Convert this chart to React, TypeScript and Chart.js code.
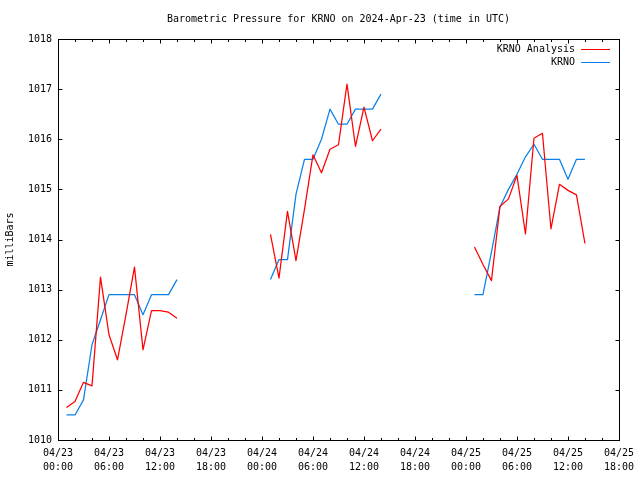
import React, { useEffect, useRef } from "react";
import { Chart, registerables } from "chart.js";

Chart.register(...registerables);

// Hours since 2024-04-23 00:00 UTC at which each data segment starts (hourly data)
const segmentStarts = [1, 25, 49];

// KRNO Analysis (red), per segment, hourly values in mb
const analysisSeg1 = [1010.65, 1010.77, 1011.15, 1011.08, 1013.25, 1012.1, 1011.6, 1012.5, 1013.45, 1011.8, 1012.58, 1012.58, 1012.55, 1012.43];
const analysisSeg2 = [1014.1, 1013.23, 1014.56, 1013.58, 1014.6, 1015.69, 1015.33, 1015.8, 1015.89, 1017.1, 1015.86, 1016.64, 1015.97, 1016.2];
const analysisSeg3 = [1013.85, 1013.5, 1013.18, 1014.66, 1014.81, 1015.28, 1014.11, 1016.02, 1016.12, 1014.21, 1015.1, 1014.98, 1014.89, 1013.92];

// KRNO observations (blue)
const krnoSeg1 = [1010.5, 1010.5, 1010.8, 1011.9, 1012.4, 1012.9, 1012.9, 1012.9, 1012.9, 1012.5, 1012.9, 1012.9, 1012.9, 1013.2];
const krnoSeg2 = [1013.2, 1013.6, 1013.6, 1014.9, 1015.6, 1015.6, 1016.0, 1016.6, 1016.3, 1016.3, 1016.6, 1016.6, 1016.6, 1016.9];
const krnoSeg3 = [1012.9, 1012.9, 1013.75, 1014.65, 1015.0, 1015.3, 1015.65, 1015.9, 1015.6, 1015.6, 1015.6, 1015.2, 1015.6, 1015.6];

// x tick labels (every 6 h from 0 to 66)
const tickDates = ["04/23", "04/23", "04/23", "04/23", "04/24", "04/24", "04/24", "04/24", "04/25", "04/25", "04/25", "04/25"];
const tickTimes = ["00:00", "06:00", "12:00", "18:00", "00:00", "06:00", "12:00", "18:00", "00:00", "06:00", "12:00", "18:00"];

const TITLE = "Barometric Pressure for KRNO on 2024-Apr-23 (time in UTC)";
const Y_TITLE = "milliBars";
const RED = "#ff0000";
const BLUE = "#0a80e8";
const FONT = "10px 'DejaVu Sans Mono', monospace";

function buildPoints(segs: number[][]) {
  const pts: { x: number; y: number | null }[] = [];
  segs.forEach((seg, i) => {
    if (i > 0) pts.push({ x: segmentStarts[i] - 0.5, y: null });
    seg.forEach((v, j) => pts.push({ x: segmentStarts[i] + j, y: v }));
  });
  return pts;
}

const framePlugin = {
  id: "frame",
  afterDraw(chart: any) {
    const { ctx, chartArea } = chart;
    const { left, right, top, bottom } = chartArea;
    const xs = chart.scales.x;
    const ys = chart.scales.y;
    ctx.save();
    ctx.strokeStyle = "#000";
    ctx.lineWidth = 1;
    const L = Math.round(left) + 0.5;
    const R = Math.round(right) + 0.5;
    const T = Math.round(top) + 0.5;
    const B = Math.round(bottom) + 0.5;
    ctx.strokeRect(L, T, R - L, B - T);
    ctx.beginPath();
    for (let h = 0; h <= 66; h += 2) {
      const px = Math.round(xs.getPixelForValue(h)) + 0.5;
      const len = h % 6 === 0 ? 4 : 2.5;
      ctx.moveTo(px, B);
      ctx.lineTo(px, B - len);
      ctx.moveTo(px, T);
      ctx.lineTo(px, T + len);
    }
    for (let v = 1010; v <= 1018; v += 1) {
      const py = Math.round(ys.getPixelForValue(v)) + 0.5;
      ctx.moveTo(L, py);
      ctx.lineTo(L + 4, py);
      ctx.moveTo(R, py);
      ctx.lineTo(R - 4, py);
    }
    ctx.stroke();

    ctx.fillStyle = "#000";
    ctx.font = FONT;
    ctx.textBaseline = "middle";
    ctx.textAlign = "center";
    ctx.fillText(TITLE, (left + right) / 2, 19.5);

    ctx.save();
    ctx.translate(10, (top + bottom) / 2);
    ctx.rotate(-Math.PI / 2);
    ctx.fillText(Y_TITLE, 0, 0);
    ctx.restore();

    // legend
    ctx.textAlign = "right";
    const items = [
      { label: chart.data.datasets[0].label, color: RED, y: 49.5 },
      { label: chart.data.datasets[1].label, color: BLUE, y: 62.5 },
    ];
    items.forEach((it) => {
      ctx.fillStyle = "#000";
      ctx.fillText(it.label, 575, it.y);
      ctx.strokeStyle = it.color;
      ctx.beginPath();
      ctx.moveTo(581, it.y);
      ctx.lineTo(610, it.y);
      ctx.stroke();
    });
    ctx.restore();
  },
};

export default function App() {
  const ref = useRef<HTMLCanvasElement>(null);
  useEffect(() => {
    if (!ref.current) return;
    const chart = new Chart(ref.current, {
      type: "line",
      data: {
        datasets: [
          {
            label: "KRNO Analysis",
            data: buildPoints([analysisSeg1, analysisSeg2, analysisSeg3]) as any,
            borderColor: RED,
            backgroundColor: RED,
            borderWidth: 1.25,
            borderJoinStyle: "round",
            pointRadius: 0,
            tension: 0,
            spanGaps: false,
          },
          {
            label: "KRNO",
            data: buildPoints([krnoSeg1, krnoSeg2, krnoSeg3]) as any,
            borderColor: BLUE,
            backgroundColor: BLUE,
            borderWidth: 1.25,
            borderJoinStyle: "round",
            pointRadius: 0,
            tension: 0,
            spanGaps: false,
          },
        ],
      },
      options: {
        responsive: false,
        animation: false,
        devicePixelRatio: 1,
        layout: { padding: { top: 39, right: 19, left: 0, bottom: 0 } },
        plugins: {
          legend: { display: false },
          title: { display: false },
          tooltip: { enabled: false },
        },
        scales: {
          x: {
            type: "linear",
            min: 0,
            max: 66,
            grid: { display: false, drawTicks: false, tickLength: 0 },
            border: { display: false },
            afterFit: (s: any) => {
              s.height = 40;
            },
            afterBuildTicks: (s: any) => {
              s.ticks = tickDates.map((_, i) => ({ value: i * 6 }));
            },
            ticks: {
              autoSkip: false,
              maxRotation: 0,
              padding: 6,
              color: "#000",
              font: { family: "'DejaVu Sans Mono', monospace", size: 10, lineHeight: "14px" },
              callback: (v: any) => {
                const i = Math.round(Number(v) / 6);
                return [tickDates[i], tickTimes[i]];
              },
            },
          },
          y: {
            type: "linear",
            min: 1010,
            max: 1018,
            grid: { display: false, drawTicks: false, tickLength: 0 },
            border: { display: false },
            afterFit: (s: any) => {
              s.width = 58;
            },
            ticks: {
              stepSize: 1,
              padding: 6,
              color: "#000",
              font: { family: "'DejaVu Sans Mono', monospace", size: 10 },
              callback: (v: any) => String(v),
            },
          },
        },
      },
      plugins: [framePlugin],
    });
    return () => chart.destroy();
  }, []);
  return (
    <div style={{ position: "absolute", left: 0, top: 0, width: 640, height: 480, background: "#fff" }}>
      <canvas ref={ref} width={640} height={480} />
    </div>
  );
}
